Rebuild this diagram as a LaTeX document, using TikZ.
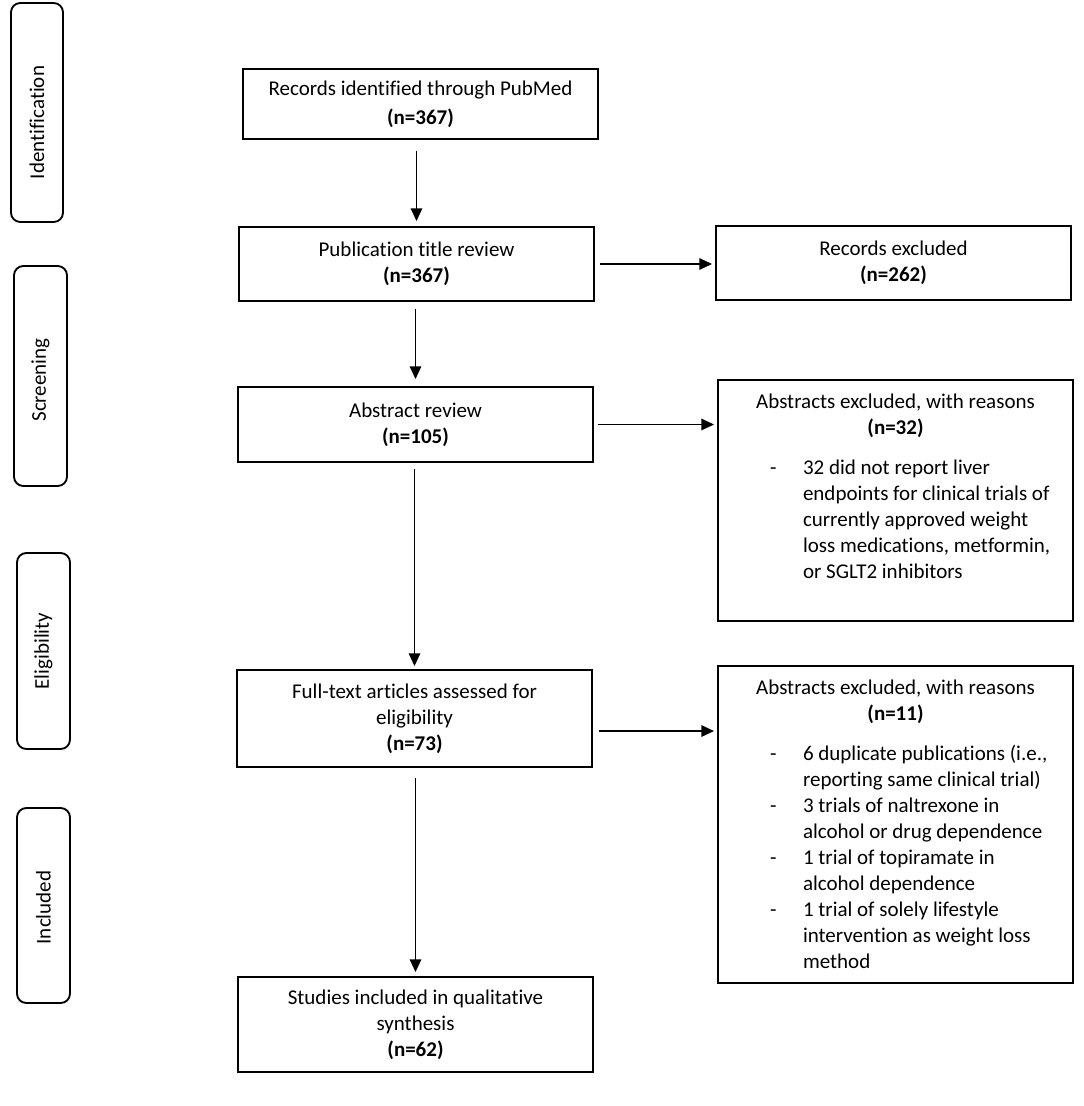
\documentclass[tikz,border=0pt]{standalone}
\usepackage{fontspec}
\setmainfont{Carlito}[Ligatures=NoCommon]
\usetikzlibrary{arrows.meta}
\newlength\pxu
\setlength\pxu{0.75pt}
\newcommand\itm[1]{\par\noindent\hangindent=85\pxu\hangafter=1\hspace*{52\pxu}\makebox[33\pxu][l]{-}{\let\\\newline #1}}
\begin{document}
\begin{tikzpicture}[x=0.75pt,y=-0.75pt,
  every node/.style={font=\fontsize{15.75pt}{19.5pt}\selectfont, text=black},
  box/.style={draw, line width=1.4pt, inner sep=0pt, align=center, minimum width=266.25pt},
  side/.style={draw, line width=1.4pt, rounded corners=7pt, inner sep=0pt, rotate=90},
  arr/.style={line width=1.4pt, -{Triangle[length=9.5pt,width=8.5pt]}}]

\useasboundingbox (0,0) rectangle (1084,1106);

% phase labels
\node[side, minimum width=219*0.75pt, minimum height=52*0.75pt] (sid) at (37,112.5) {Identification\hspace*{20\pxu}};
\node[side, minimum width=220*0.75pt, minimum height=53*0.75pt] (ssc) at (40.5,376) {Screening\hspace*{8\pxu}};
\node[side, minimum width=196*0.75pt, minimum height=53*0.75pt] (sel) at (43.5,651) {Eligibility};
\node[side, minimum width=195*0.75pt, minimum height=53*0.75pt] (sin) at (43.5,905.5) {Included\hspace*{4\pxu}};

% main column
\node[box, minimum height=70*0.75pt, font=\fontsize{15.75pt}{21.75pt}\selectfont] (rec) at (420.5,104) {Records identified through PubMed\\\textbf{(n=367)}};
\node[box, minimum height=74*0.75pt] (title) at (416.5,264) {Publication title review\\\textbf{(n=367)}};
\node[box, minimum height=75*0.75pt] (abs) at (415.5,424.5) {Abstract review\\\textbf{(n=105)}};
\node[box, minimum height=97*0.75pt] (full) at (414.5,718.5) {Full-text articles assessed for\\eligibility\\\textbf{(n=73)}};
\node[box, minimum height=95*0.75pt] (stud) at (415.5,1024.5) {Studies included in qualitative\\synthesis\\\textbf{(n=62)}};

% exclusion column
\node[box, minimum height=74*0.75pt] (recx) at (893.5,263) {Records excluded\\\textbf{(n=262)}};
\node[draw, line width=1.4pt, inner sep=0pt] (absx) at (895.5,500.5) {\parbox[c][241\pxu][t]{355\pxu}{\vspace*{14\pxu}\centering Abstracts excluded, with reasons\\\textbf{(n=32)}\par\vspace{14\pxu}\raggedright
\itm{32 did not report liver\\endpoints for clinical trials of\\currently approved weight\\loss medications, metformin,\\or SGLT2 inhibitors}\par}};
\node[draw, line width=1.4pt, inner sep=0pt] (ftx) at (895.5,824.5) {\parbox[c][317\pxu][t]{355\pxu}{\vspace*{14\pxu}\centering Abstracts excluded, with reasons\\\textbf{(n=11)}\par\vspace{14\pxu}\raggedright
\itm{6 duplicate publications (i.e.,\\reporting same clinical trial)}
\itm{3 trials of naltrexone in\\alcohol or drug dependence}
\itm{1 trial of topiramate in\\alcohol dependence}
\itm{1 trial of solely lifestyle\\intervention as weight loss\\method}\par}};

% connectors
\draw[arr, shorten <=8.25pt, shorten >=3.75pt] (title.north |- rec.south) -- (title.north);
\draw[arr, shorten <=5.25pt, shorten >=5.25pt] (abs.north |- title.south) -- (abs.north);
\draw[arr, shorten <=4.5pt, shorten >=2.25pt] (full.north |- abs.south) -- (full.north);
\draw[arr, shorten <=7.5pt, shorten >=3pt] (stud.north |- full.south) -- (stud.north);
\draw[arr, shorten <=3.75pt, shorten >=2.25pt] (title.east) -- (title.east -| recx.west);
\draw[arr, shorten <=3pt, shorten >=2.25pt] (abs.east) -- (abs.east -| absx.west);
\coordinate (fe) at ([yshift=-9.4pt]full.east);
\draw[arr, shorten <=4.5pt, shorten >=2.25pt] (fe) -- (fe -| ftx.west);
\end{tikzpicture}
\end{document}
